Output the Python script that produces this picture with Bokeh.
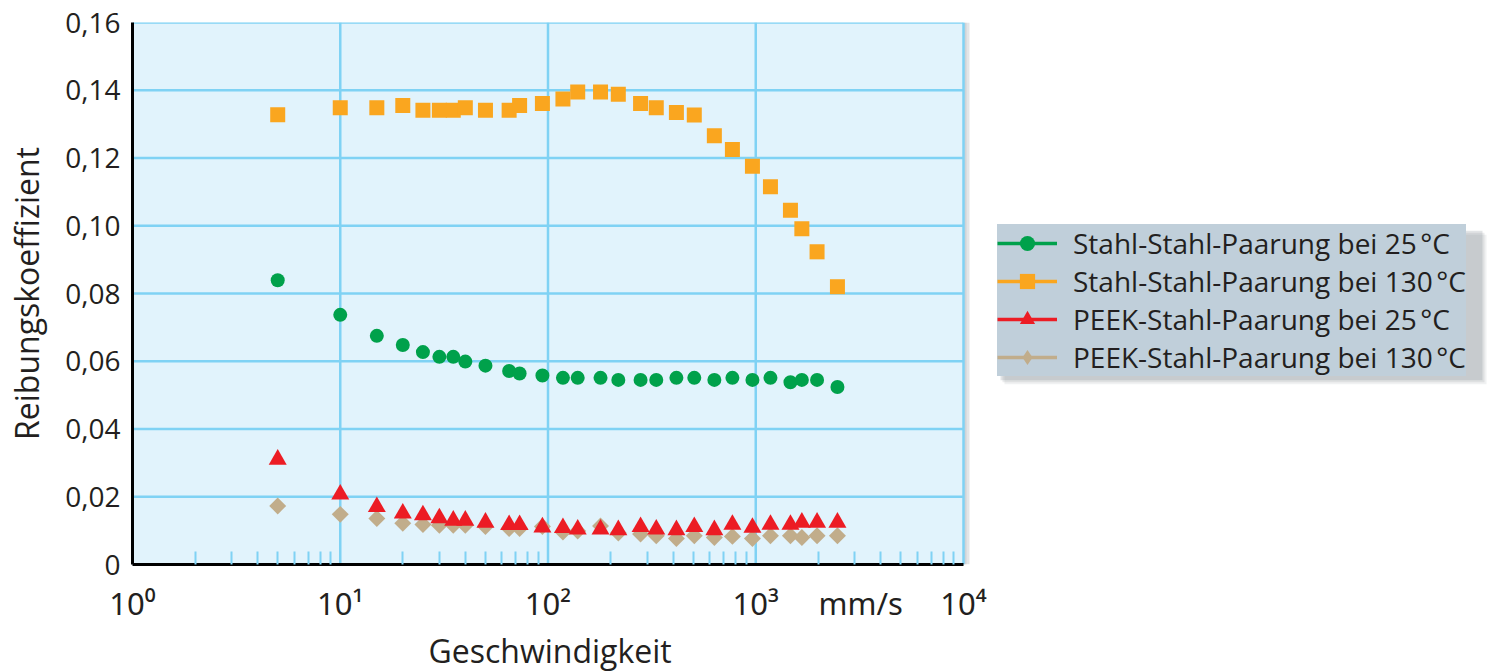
import math
from bokeh.plotting import figure
from bokeh.models import (FixedTicker, Legend, LegendItem, Range1d,
                          CustomJSTickFormatter, Title)
from bokeh.embed import file_html
from bokeh.resources import INLINE

# ---------------- data ----------------
speed = [5, 10, 15, 20, 25, 30, 35, 40, 50, 65, 73, 94, 118, 139, 179, 218,
         279, 332, 415, 506, 632, 772, 964, 1177, 1469, 1667, 1973, 2473]

stahl_25 = [0.0839, 0.0737, 0.0675, 0.0648, 0.0627, 0.0613, 0.0613, 0.0599,
            0.0587, 0.0571, 0.0564, 0.0558, 0.0551, 0.0551, 0.0551, 0.0545,
            0.0545, 0.0545, 0.0551, 0.0551, 0.0545, 0.0551, 0.0545, 0.0551,
            0.0538, 0.0545, 0.0545, 0.0524]

stahl_130 = [0.1328, 0.1348, 0.1348, 0.1355, 0.1341, 0.1341, 0.1341, 0.1348,
             0.1341, 0.1341, 0.1355, 0.1361, 0.1374, 0.1395, 0.1395, 0.1388,
             0.1361, 0.1348, 0.1334, 0.1327, 0.1266, 0.1225, 0.1176, 0.1115,
             0.1046, 0.0991, 0.0923, 0.0820]

peek_25 = [0.0310, 0.0207, 0.0170, 0.0151, 0.0146, 0.0137, 0.0130, 0.0130,
           0.0124, 0.0117, 0.0117, 0.0110, 0.0108, 0.0104, 0.0104, 0.0102,
           0.0111, 0.0104, 0.0102, 0.0111, 0.0102, 0.0118, 0.0109, 0.0118,
           0.0118, 0.0124, 0.0124, 0.0124]

peek_130 = [0.0173, 0.0148, 0.0136, 0.0122, 0.0118, 0.0116, 0.0116, 0.0116,
            0.0112, 0.0106, 0.0106, 0.0112, 0.0096, 0.0099, 0.0114, 0.0093,
            0.0090, 0.0085, 0.0077, 0.0085, 0.0080, 0.0083, 0.0077, 0.0085,
            0.0085, 0.0080, 0.0085, 0.0085]

labels = ["Stahl-Stahl-Paarung bei 25\u202f°C",
          "Stahl-Stahl-Paarung bei 130\u202f°C",
          "PEEK-Stahl-Paarung bei 25\u202f°C",
          "PEEK-Stahl-Paarung bei 130\u202f°C"]

y_ticks = [0, 0.02, 0.04, 0.06, 0.08, 0.10, 0.12, 0.14, 0.16]
x_decades = [1, 10, 100, 1000, 10000]
unit_tick = 3200
x_minor = [m * d for d in [1, 10, 100, 1000] for m in range(2, 10)]

GREEN = "#00A14B"
ORANGE = "#FAA61F"
RED = "#EC1C24"
TAN = "#C1AD8B"
GRID = "#7FD2F4"
PANEL = "#E1F3FC"
TEXT = "#231F20"
FONT = "Open Sans"

# ---------------- layout geometry ----------------
W, H = 1500, 671
LEFT, TOP, BOTTOM = 132, 22, 105
DATA_W = 831                      # pixel width of the 4 decades (1 .. 10^4)
frame_w = W - LEFT
frame_h = H - TOP - BOTTOM
x_min, x_max = x_decades[0], x_decades[-1]
x_end = 10 ** (4 * frame_w / DATA_W)   # frame extends right to hold the legend
y_min, y_max = y_ticks[0], y_ticks[-1]

# legend box (canvas pixels) as rendered
LG_L, LG_R, LG_T, LG_B = 997, 1479, 228, 378


def px_to_x(px):      # screen x (canvas) -> data x
    return 10 ** ((px - LEFT) * 4 / DATA_W)


def py_to_y(py):      # screen y (canvas) -> data y
    return y_min + (TOP + frame_h - py) * (y_max - y_min) / frame_h


p = figure(width=W, height=H, x_axis_type="log",
           output_backend="svg", toolbar_location=None,
           x_range=Range1d(x_min, x_end), y_range=Range1d(y_min, y_max),
           min_border_left=LEFT, min_border_right=0,
           min_border_top=TOP, min_border_bottom=BOTTOM)

p.background_fill_color = "white"
p.border_fill_color = "white"
p.outline_line_color = None
p.xgrid.visible = False
p.ygrid.visible = False

# soft shadow right of the plot area
p.quad(left=[x_max], right=[px_to_x(963 + 6)], bottom=[y_min], top=[y_max],
       fill_color="#AEB5BA", fill_alpha=0.35, line_color=None)
p.quad(left=[x_max], right=[px_to_x(963 + 3)], bottom=[y_min], top=[y_max],
       fill_color="#AEB5BA", fill_alpha=0.35, line_color=None)

# plot area panel and its grid, limited to 1 .. 10^4
p.quad(left=[x_min], right=[x_max], bottom=[y_min], top=[y_max],
       fill_color=PANEL, line_color=None)
p.segment(x0=x_decades, x1=x_decades,
          y0=[y_min] * len(x_decades), y1=[y_max] * len(x_decades),
          line_color=GRID, line_width=2.5)
p.segment(x0=[x_min] * len(y_ticks), x1=[x_max] * len(y_ticks),
          y0=y_ticks, y1=y_ticks, line_color=GRID, line_width=2.5)

# legend drop shadow
for off, a in [(7, 0.10), (5, 0.14), (3, 0.20)]:
    p.quad(left=[px_to_x(LG_L + off)], right=[px_to_x(LG_R + off)],
           top=[py_to_y(LG_T + off)], bottom=[py_to_y(LG_B + off)],
           fill_color="#6F7880", fill_alpha=a, line_color=None)

# x axis
xa = p.xaxis[0]
xa.bounds = (x_min, x_max)
xa.ticker = FixedTicker(ticks=x_decades + [unit_tick], minor_ticks=x_minor)
xa.formatter = CustomJSTickFormatter(code="""
const m = {1: "10\u2070", 10: "10\u00b9", 100: "10\u00b2", 1000: "10\u00b3", 10000: "10\u2074"};
return (tick in m) ? m[tick] : "mm/s";
""")
xa.axis_line_color = "black"
xa.axis_line_width = 3
xa.major_tick_line_color = None
xa.major_tick_out = 0
xa.major_tick_in = 0
xa.minor_tick_line_color = GRID
xa.minor_tick_line_width = 2
xa.minor_tick_in = 13
xa.minor_tick_out = 0
xa.major_label_text_font = "Noto Sans"
xa.major_label_text_font_size = "31px"
xa.major_label_text_color = TEXT
xa.major_label_standoff = 17

# x-axis title, centred under the data area (not the extended frame)
xtitle = Title(text="Geschwindigkeit", align="left", offset=296,
               text_font=FONT, text_font_size="32px", text_font_style="normal",
               text_color=TEXT, standoff=0)
p.add_layout(xtitle, "below")

# y axis
ya = p.yaxis[0]
ya.ticker = FixedTicker(ticks=y_ticks)
ya.formatter = CustomJSTickFormatter(code="""
return tick == 0 ? "0" : tick.toFixed(2).replace(".", ",");
""")
ya.axis_line_color = "black"
ya.axis_line_width = 3
ya.major_tick_line_color = None
ya.major_tick_out = 0
ya.major_tick_in = 0
ya.minor_tick_line_color = None
ya.minor_tick_out = 0
ya.major_label_text_font = FONT
ya.major_label_text_font_size = "28px"
ya.major_label_text_color = TEXT
ya.major_label_standoff = 12
ya.axis_label = "Reibungskoeffizient"
ya.axis_label_text_font = FONT
ya.axis_label_text_font_size = "32px"
ya.axis_label_text_font_style = "normal"
ya.axis_label_text_color = TEXT
ya.axis_label_standoff = 14

# ---------------- series ----------------
r130 = p.scatter(x=speed, y=stahl_130, marker="square", size=15,
                 fill_color=ORANGE, line_color=None)
r25 = p.scatter(x=speed, y=stahl_25, marker="circle", size=14,
                fill_color=GREEN, line_color=None)
# PEEK 130 °C: diamonds drawn as squares turned by 45°
p.scatter(x=speed, y=peek_130, marker="square", size=12, angle=math.pi / 4,
          fill_color=TAN, line_color=None)
rp25 = p.scatter(x=speed, y=peek_25, marker="triangle", size=18,
                 fill_color=RED, line_color=None)

nan = [float("nan")]
# legend samples (NaN data: nothing drawn in the plot area)
leg_diamond = p.scatter(x=nan, y=nan, marker="diamond", fill_color=TAN, line_color=None)

items = []
for lab, color, sc in zip(labels, [GREEN, ORANGE, RED, TAN],
                          [r25, r130, rp25, leg_diamond]):
    ln = p.line(x=nan, y=nan, line_color=color, line_width=3.5)
    items.append(LegendItem(label=lab, renderers=[ln, sc]))

legend = Legend(items=items, location=(LG_L - LEFT, H - BOTTOM - LG_B),
                background_fill_color="#C0CFDA", background_fill_alpha=1,
                border_line_color=None,
                label_text_font=FONT, label_text_font_size="28px",
                label_text_color=TEXT,
                glyph_width=60, glyph_height=38, spacing=0,
                padding=10, label_standoff=16, margin=0)
p.add_layout(legend)

open("out.html", "w").write(file_html(p, INLINE))
